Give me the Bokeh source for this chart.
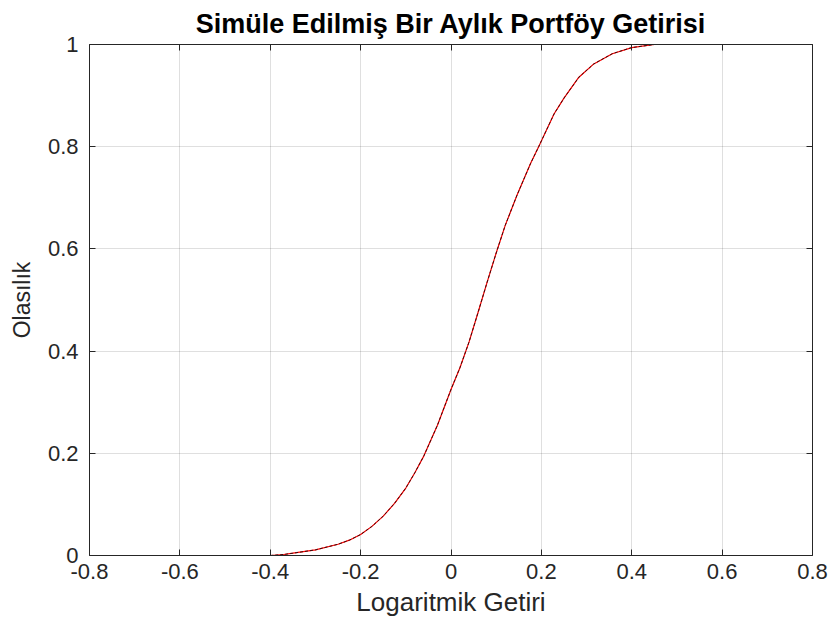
from bokeh.plotting import figure
from bokeh.models import Range1d, LinearAxis, FixedTicker
from bokeh.embed import file_html
from bokeh.resources import INLINE

x_ret = [-0.80, -0.40, -0.37, -0.35, -0.30, -0.25, -0.225, -0.20, -0.175, -0.15,
         -0.125, -0.10, -0.08, -0.06, -0.03, 0.0, 0.02, 0.04, 0.06, 0.08,
         0.10, 0.12, 0.146, 0.176, 0.194, 0.228, 0.25, 0.283, 0.316, 0.357,
         0.40, 0.45, 0.80]
y_prob = [0.0, 0.0, 0.002, 0.0045, 0.011, 0.022, 0.030, 0.041, 0.057, 0.077,
          0.102, 0.132, 0.162, 0.195, 0.255, 0.325, 0.368, 0.418, 0.476, 0.535,
          0.592, 0.646, 0.705, 0.767, 0.800, 0.864, 0.895, 0.936, 0.962, 0.982,
          0.994, 1.0, 1.0]
# empirical (dashed) part covers the sample range only
x_emp = x_ret[1:-1]
y_emp = y_prob[1:-1]

x_ticks = [-0.8, -0.6, -0.4, -0.2, 0, 0.2, 0.4, 0.6, 0.8]
y_ticks = [0, 0.2, 0.4, 0.6, 0.8, 1]
x_tick_labels = {-0.8: "-0.8", -0.6: "-0.6", -0.4: "-0.4", -0.2: "-0.2", 0: "0",
                 0.2: "0.2", 0.4: "0.4", 0.6: "0.6", 0.8: "0.8"}
y_tick_labels = {0: "0", 0.2: "0.2", 0.4: "0.4", 0.6: "0.6", 0.8: "0.8", 1: "1"}

FONT = "Liberation Sans"
DARK = "#262626"

p = figure(width=833, height=624, output_backend="svg", toolbar_location=None,
           x_range=Range1d(-0.8, 0.8), y_range=Range1d(0, 1),
           min_border_left=89, min_border_right=21, min_border_top=44,
           min_border_bottom=69)

p.title.text = "Simüle Edilmiş Bir Aylık Portföy Getirisi"
p.title.text_font = FONT
p.title.text_font_size = "27px"
p.title.text_font_style = "bold"
p.title.text_color = "#000000"
p.title.align = "center"
p.title.standoff = 11
p.title.offset = 6

p.outline_line_color = None
p.background_fill_color = "white"
p.border_fill_color = "white"

p.xgrid.ticker = FixedTicker(ticks=x_ticks)
p.ygrid.ticker = FixedTicker(ticks=y_ticks)
for g in (p.xgrid, p.ygrid):
    g.grid_line_color = DARK
    g.grid_line_alpha = 0.15
    g.grid_line_width = 1

for ax, ticks, labels in ((p.xaxis[0], x_ticks, x_tick_labels), (p.yaxis[0], y_ticks, y_tick_labels)):
    ax.ticker = FixedTicker(ticks=ticks)
    ax.major_label_overrides = labels
    ax.major_label_text_font = FONT
    ax.major_label_text_font_size = "22px"
    ax.major_label_text_color = DARK
    ax.axis_line_color = DARK
    ax.major_tick_line_color = DARK
    ax.major_tick_in = 6
    ax.major_tick_out = 0
    ax.minor_tick_line_color = None
    ax.axis_label_text_font = FONT
    ax.axis_label_text_font_style = "normal"
    ax.axis_label_text_color = DARK

p.xaxis[0].axis_label = "Logaritmik Getiri"
p.xaxis[0].axis_label_text_font_size = "26px"
p.xaxis[0].major_label_standoff = 8
p.xaxis[0].axis_label_standoff = 5
p.yaxis[0].axis_label = "Olasılık"
p.yaxis[0].axis_label_text_font_size = "23px"
p.yaxis[0].major_label_standoff = 11
p.yaxis[0].axis_label_standoff = 10

top = LinearAxis(ticker=FixedTicker(ticks=x_ticks), major_label_text_font_size="0px",
                 axis_line_color=DARK, major_tick_line_color=DARK, major_tick_in=6,
                 major_tick_out=0, minor_tick_line_color=None, major_label_standoff=0)
right = LinearAxis(ticker=FixedTicker(ticks=y_ticks), major_label_text_font_size="0px",
                   axis_line_color=DARK, major_tick_line_color=DARK, major_tick_in=6,
                   major_tick_out=0, minor_tick_line_color=None, major_label_standoff=0)
top.major_label_overrides = {t: "" for t in x_ticks}
right.major_label_overrides = {t: "" for t in y_ticks}
p.add_layout(top, "above")
p.add_layout(right, "right")

p.line(x_ret, y_prob, line_color="#ff0000", line_width=1.2)
p.line(x_emp, y_emp, line_color="#3a0a0a", line_width=1, line_dash="3 2")

open("out.html", "w").write(file_html(p, INLINE))
